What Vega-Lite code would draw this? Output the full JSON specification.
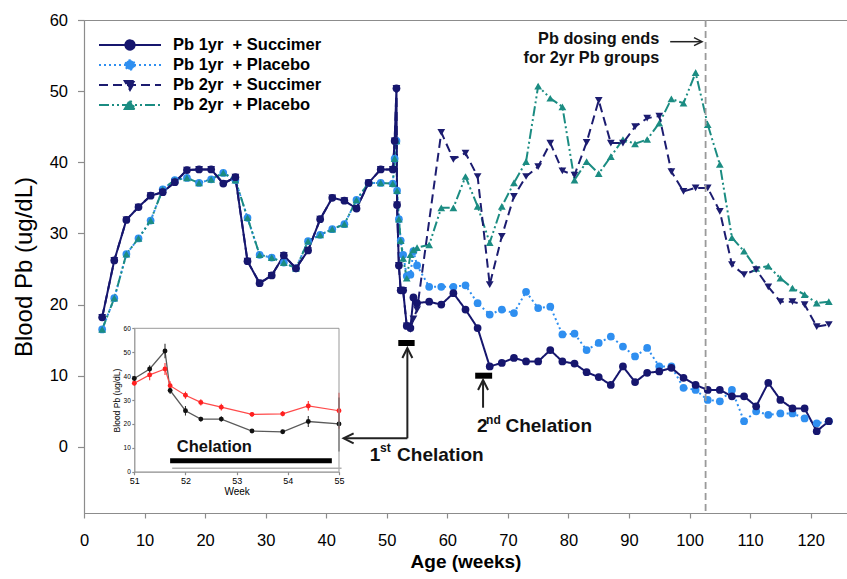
{
  "$schema": "https://vega.github.io/schema/vega-lite/v6.json",
  "width": 763,
  "height": 493,
  "autosize": {"type": "none"},
  "padding": {"left": 84, "top": 20, "right": 0, "bottom": 66},
  "background": "white",
  "datasets": {
    "main": [
      {"g":"P1","wk":3,"v":16.5},{"g":"P1","wk":5,"v":20.9},{"g":"P1","wk":7,"v":27.1},{"g":"P1","wk":9,"v":29.3},{"g":"P1","wk":11,"v":31.8},{"g":"P1","wk":13,"v":36.2},{"g":"P1","wk":15,"v":37.5},{"g":"P1","wk":17,"v":37.8},{"g":"P1","wk":19,"v":37.1},{"g":"P1","wk":21,"v":37.6},{"g":"P1","wk":23,"v":38.5},{"g":"P1","wk":25,"v":37.5},{"g":"P1","wk":27,"v":32.2},{"g":"P1","wk":29,"v":27.0},{"g":"P1","wk":31,"v":26.6},{"g":"P1","wk":33,"v":25.9},{"g":"P1","wk":35,"v":25.1},{"g":"P1","wk":37,"v":28.9},{"g":"P1","wk":39,"v":29.8},{"g":"P1","wk":41,"v":30.6},{"g":"P1","wk":43,"v":31.3},{"g":"P1","wk":45,"v":34.7},{"g":"P1","wk":47,"v":37.1},{"g":"P1","wk":49,"v":37.1},{"g":"P1","wk":51,"v":37.0},{"g":"P1","wk":51.3,"v":40.5},{"g":"P1","wk":51.6,"v":43.0},{"g":"P1","wk":51.7,"v":36.0},{"g":"P1","wk":52,"v":32.0},{"g":"P1","wk":52.3,"v":29.0},{"g":"P1","wk":52.7,"v":27.0},{"g":"P1","wk":53.3,"v":24.0},{"g":"P1","wk":53.9,"v":24.2},{"g":"P1","wk":54.4,"v":27.5},{"g":"P1","wk":55,"v":25.5},{"g":"P1","wk":57,"v":22.5},{"g":"P1","wk":59,"v":22.5},{"g":"P1","wk":61,"v":22.5},{"g":"P1","wk":63,"v":22.7},{"g":"P1","wk":65,"v":20.2},{"g":"P1","wk":67,"v":18.6},{"g":"P1","wk":69,"v":19.3},{"g":"P1","wk":71,"v":18.8},{"g":"P1","wk":73,"v":21.8},{"g":"P1","wk":75,"v":19.5},{"g":"P1","wk":77,"v":19.7},{"g":"P1","wk":79,"v":15.8},{"g":"P1","wk":81,"v":15.9},{"g":"P1","wk":83,"v":13.6},{"g":"P1","wk":85,"v":14.6},{"g":"P1","wk":87,"v":15.5},{"g":"P1","wk":89,"v":14.1},{"g":"P1","wk":91,"v":12.7},{"g":"P1","wk":93,"v":13.9},{"g":"P1","wk":95,"v":11.3},{"g":"P1","wk":97,"v":11.3},{"g":"P1","wk":99,"v":8.3},{"g":"P1","wk":101,"v":8.0},{"g":"P1","wk":103,"v":6.6},{"g":"P1","wk":105,"v":6.4},{"g":"P1","wk":107,"v":8.0},{"g":"P1","wk":109,"v":3.6},{"g":"P1","wk":111,"v":5.0},{"g":"P1","wk":113,"v":4.5},{"g":"P1","wk":115,"v":4.7},{"g":"P1","wk":117,"v":4.7},{"g":"P1","wk":119,"v":4.0},{"g":"P1","wk":121,"v":3.3},{"g":"P1","wk":123,"v":3.6},
      {"g":"P2","wk":3,"v":16.5},{"g":"P2","wk":5,"v":20.9},{"g":"P2","wk":7,"v":27.1},{"g":"P2","wk":9,"v":29.3},{"g":"P2","wk":11,"v":31.8},{"g":"P2","wk":13,"v":36.2},{"g":"P2","wk":15,"v":37.5},{"g":"P2","wk":17,"v":37.8},{"g":"P2","wk":19,"v":37.1},{"g":"P2","wk":21,"v":37.6},{"g":"P2","wk":23,"v":38.5},{"g":"P2","wk":25,"v":37.5},{"g":"P2","wk":27,"v":32.2},{"g":"P2","wk":29,"v":27.0},{"g":"P2","wk":31,"v":26.6},{"g":"P2","wk":33,"v":25.9},{"g":"P2","wk":35,"v":25.1},{"g":"P2","wk":37,"v":28.9},{"g":"P2","wk":39,"v":29.8},{"g":"P2","wk":41,"v":30.6},{"g":"P2","wk":43,"v":31.3},{"g":"P2","wk":45,"v":34.7},{"g":"P2","wk":47,"v":37.1},{"g":"P2","wk":49,"v":37.1},{"g":"P2","wk":51,"v":37.0},{"g":"P2","wk":51.3,"v":40.5},{"g":"P2","wk":51.6,"v":43.0},{"g":"P2","wk":51.7,"v":36.0},{"g":"P2","wk":52,"v":32.0},{"g":"P2","wk":52.3,"v":29.0},{"g":"P2","wk":52.7,"v":26.5},{"g":"P2","wk":53.3,"v":23.7},{"g":"P2","wk":53.9,"v":27.0},{"g":"P2","wk":54.4,"v":27.7},{"g":"P2","wk":55,"v":28.0},{"g":"P2","wk":57,"v":28.4},{"g":"P2","wk":59,"v":33.6},{"g":"P2","wk":61,"v":33.6},{"g":"P2","wk":63,"v":38.0},{"g":"P2","wk":65,"v":33.8},{"g":"P2","wk":67,"v":28.7},{"g":"P2","wk":69,"v":33.8},{"g":"P2","wk":71,"v":37.1},{"g":"P2","wk":73,"v":40.1},{"g":"P2","wk":75,"v":50.7},{"g":"P2","wk":77,"v":49.0},{"g":"P2","wk":79,"v":47.8},{"g":"P2","wk":81,"v":37.5},{"g":"P2","wk":83,"v":40.1},{"g":"P2","wk":85,"v":38.4},{"g":"P2","wk":87,"v":40.8},{"g":"P2","wk":89,"v":43.2},{"g":"P2","wk":91,"v":42.6},{"g":"P2","wk":93,"v":43.2},{"g":"P2","wk":95,"v":45.5},{"g":"P2","wk":97,"v":48.9},{"g":"P2","wk":99,"v":48.3},{"g":"P2","wk":101,"v":52.6},{"g":"P2","wk":103,"v":45.3},{"g":"P2","wk":105,"v":39.7},{"g":"P2","wk":107,"v":29.4},{"g":"P2","wk":109,"v":27.5},{"g":"P2","wk":111,"v":25.1},{"g":"P2","wk":113,"v":25.4},{"g":"P2","wk":115,"v":23.7},{"g":"P2","wk":117,"v":22.3},{"g":"P2","wk":119,"v":21.4},{"g":"P2","wk":121,"v":20.2},{"g":"P2","wk":123,"v":20.4},
      {"g":"S2","wk":3,"v":18.2},{"g":"S2","wk":5,"v":26.2},{"g":"S2","wk":7,"v":31.9},{"g":"S2","wk":9,"v":33.7},{"g":"S2","wk":11,"v":35.3},{"g":"S2","wk":13,"v":35.8},{"g":"S2","wk":15,"v":37.2},{"g":"S2","wk":17,"v":38.9},{"g":"S2","wk":19,"v":39.0},{"g":"S2","wk":21,"v":39.0},{"g":"S2","wk":23,"v":37.0},{"g":"S2","wk":25,"v":37.9},{"g":"S2","wk":27,"v":26.1},{"g":"S2","wk":29,"v":23.0},{"g":"S2","wk":31,"v":24.1},{"g":"S2","wk":33,"v":26.9},{"g":"S2","wk":35,"v":25.1},{"g":"S2","wk":37,"v":27.6},{"g":"S2","wk":39,"v":32.0},{"g":"S2","wk":41,"v":35.0},{"g":"S2","wk":43,"v":34.6},{"g":"S2","wk":45,"v":33.5},{"g":"S2","wk":47,"v":37.1},{"g":"S2","wk":49,"v":39.0},{"g":"S2","wk":51,"v":39.0},{"g":"S2","wk":51.3,"v":43.0},{"g":"S2","wk":51.6,"v":50.4},{"g":"S2","wk":51.7,"v":34.0},{"g":"S2","wk":52,"v":25.5},{"g":"S2","wk":52.3,"v":22.0},{"g":"S2","wk":52.7,"v":22.0},{"g":"S2","wk":53.3,"v":17.0},{"g":"S2","wk":53.9,"v":16.5},{"g":"S2","wk":54.4,"v":18.0},{"g":"S2","wk":55,"v":19.3},{"g":"S2","wk":59,"v":44.2},{"g":"S2","wk":61,"v":40.4},{"g":"S2","wk":63,"v":41.3},{"g":"S2","wk":65,"v":38.0},{"g":"S2","wk":67,"v":22.8},{"g":"S2","wk":69,"v":29.6},{"g":"S2","wk":71,"v":35.2},{"g":"S2","wk":73,"v":38.0},{"g":"S2","wk":75,"v":39.4},{"g":"S2","wk":77,"v":42.7},{"g":"S2","wk":79,"v":38.8},{"g":"S2","wk":81,"v":38.2},{"g":"S2","wk":83,"v":42.8},{"g":"S2","wk":85,"v":48.7},{"g":"S2","wk":87,"v":42.7},{"g":"S2","wk":89,"v":42.7},{"g":"S2","wk":91,"v":45.0},{"g":"S2","wk":93,"v":46.2},{"g":"S2","wk":95,"v":46.5},{"g":"S2","wk":97,"v":38.7},{"g":"S2","wk":99,"v":35.9},{"g":"S2","wk":101,"v":36.4},{"g":"S2","wk":103,"v":36.4},{"g":"S2","wk":105,"v":33.1},{"g":"S2","wk":107,"v":25.6},{"g":"S2","wk":109,"v":24.2},{"g":"S2","wk":111,"v":24.9},{"g":"S2","wk":113,"v":22.5},{"g":"S2","wk":115,"v":20.4},{"g":"S2","wk":117,"v":20.4},{"g":"S2","wk":119,"v":20.0},{"g":"S2","wk":121,"v":16.9},{"g":"S2","wk":123,"v":17.2},
      {"g":"S1","wk":3,"v":18.2},{"g":"S1","wk":5,"v":26.2},{"g":"S1","wk":7,"v":31.9},{"g":"S1","wk":9,"v":33.7},{"g":"S1","wk":11,"v":35.3},{"g":"S1","wk":13,"v":35.8},{"g":"S1","wk":15,"v":37.2},{"g":"S1","wk":17,"v":38.9},{"g":"S1","wk":19,"v":39.0},{"g":"S1","wk":21,"v":39.0},{"g":"S1","wk":23,"v":37.0},{"g":"S1","wk":25,"v":37.9},{"g":"S1","wk":27,"v":26.1},{"g":"S1","wk":29,"v":23.0},{"g":"S1","wk":31,"v":24.1},{"g":"S1","wk":33,"v":26.9},{"g":"S1","wk":35,"v":25.1},{"g":"S1","wk":37,"v":27.6},{"g":"S1","wk":39,"v":32.0},{"g":"S1","wk":41,"v":35.0},{"g":"S1","wk":43,"v":34.6},{"g":"S1","wk":45,"v":33.5},{"g":"S1","wk":47,"v":37.1},{"g":"S1","wk":49,"v":39.0},{"g":"S1","wk":51,"v":39.0},{"g":"S1","wk":51.3,"v":43.0},{"g":"S1","wk":51.6,"v":50.4},{"g":"S1","wk":51.7,"v":34.0},{"g":"S1","wk":52,"v":25.5},{"g":"S1","wk":52.3,"v":22.0},{"g":"S1","wk":52.7,"v":22.0},{"g":"S1","wk":53.3,"v":17.0},{"g":"S1","wk":53.9,"v":16.7},{"g":"S1","wk":54.4,"v":21.0},{"g":"S1","wk":55,"v":20.2},{"g":"S1","wk":57,"v":20.4},{"g":"S1","wk":59,"v":20.0},{"g":"S1","wk":61,"v":21.6},{"g":"S1","wk":63,"v":19.3},{"g":"S1","wk":65,"v":16.7},{"g":"S1","wk":67,"v":11.3},{"g":"S1","wk":69,"v":11.8},{"g":"S1","wk":71,"v":12.5},{"g":"S1","wk":73,"v":12.0},{"g":"S1","wk":75,"v":12.0},{"g":"S1","wk":77,"v":13.6},{"g":"S1","wk":79,"v":12.0},{"g":"S1","wk":81,"v":11.7},{"g":"S1","wk":83,"v":10.5},{"g":"S1","wk":85,"v":9.8},{"g":"S1","wk":87,"v":8.7},{"g":"S1","wk":89,"v":11.3},{"g":"S1","wk":91,"v":9.1},{"g":"S1","wk":93,"v":10.4},{"g":"S1","wk":95,"v":10.6},{"g":"S1","wk":97,"v":11.1},{"g":"S1","wk":99,"v":9.7},{"g":"S1","wk":101,"v":8.7},{"g":"S1","wk":103,"v":8.0},{"g":"S1","wk":105,"v":8.0},{"g":"S1","wk":107,"v":7.1},{"g":"S1","wk":109,"v":7.1},{"g":"S1","wk":111,"v":5.7},{"g":"S1","wk":113,"v":9.0},{"g":"S1","wk":115,"v":6.6},{"g":"S1","wk":117,"v":5.4},{"g":"S1","wk":119,"v":5.4},{"g":"S1","wk":121,"v":2.2},{"g":"S1","wk":123,"v":3.6}
    ],
    "inset": [
      {"t":"P","wk":51,"v":37,"lo":36,"hi":38},{"t":"P","wk":51.3,"v":40.5,"lo":38.3,"hi":42.7},{"t":"P","wk":51.6,"v":43,"lo":40.5,"hi":45.5},{"t":"P","wk":51.7,"v":36,"lo":34.2,"hi":37.8},{"t":"P","wk":52,"v":32,"lo":30.5,"hi":33.5},{"t":"P","wk":52.3,"v":29,"lo":27.7,"hi":30.3},{"t":"P","wk":52.7,"v":27,"lo":25.6,"hi":28.4},{"t":"P","wk":53.3,"v":24,"lo":23,"hi":25},{"t":"P","wk":53.9,"v":24.2,"lo":23.2,"hi":25.4},{"t":"P","wk":54.4,"v":27.5,"lo":25.6,"hi":29.6},{"t":"P","wk":55,"v":25.5,"lo":18,"hi":33},
      {"t":"S","wk":51,"v":39,"lo":38,"hi":40},{"t":"S","wk":51.3,"v":43,"lo":41.5,"hi":44.5},{"t":"S","wk":51.6,"v":50.5,"lo":47.5,"hi":53.5},{"t":"S","wk":51.7,"v":34,"lo":32.5,"hi":35.5},{"t":"S","wk":52,"v":25.5,"lo":23.5,"hi":27.5},{"t":"S","wk":52.3,"v":22,"lo":21,"hi":23},{"t":"S","wk":52.7,"v":22,"lo":21,"hi":23.2},{"t":"S","wk":53.3,"v":17,"lo":16.3,"hi":17.7},{"t":"S","wk":53.9,"v":16.7,"lo":16,"hi":17.5},{"t":"S","wk":54.4,"v":21,"lo":18.7,"hi":23.3},{"t":"S","wk":55,"v":20,"lo":8.5,"hi":31}
    ]
  },
  "layer": [
    {
      "layer": [
        {
          "data": {"name": "main"},
          "transform": [{"filter": "datum.wk < 0"}],
          "mark": {"type": "point", "opacity": 1, "strokeWidth": 2},
          "encoding": {
            "x": {"field": "wk", "type": "quantitative",
              "scale": {"domain": [0, 126], "nice": false, "zero": false},
              "axis": {"orient": "bottom", "values": [0,10,20,30,40,50,60,70,80,90,100,110,120], "title": "Age (weeks)", "titleFontSize": 19, "titleFontWeight": "bold", "labelFontSize": 16.5, "tickSize": 5, "labelPadding": 14, "titlePadding": 4, "labelFlush": false, "labelOverlap": false}},
            "y": {"field": "v", "type": "quantitative",
              "scale": {"domain": [-9.3, 60], "nice": false, "zero": false},
              "axis": {"orient": "left", "values": [0,10,20,30,40,50,60], "title": "Blood Pb (ug/dL)", "titleFontSize": 24, "titleFontWeight": "normal", "labelFontSize": 16.5, "tickSize": 6.5, "labelPadding": 10, "titlePadding": 13}},
            "fill": {"field": "g", "type": "nominal",
              "scale": {"domain": ["S1","P1","S2","P2"], "range": ["#16166e","#2f8ff0","#1c1c70","#1b8c82"]},
              "legend": {
                "orient": "none", "legendX": 14, "legendY": 15.4, "title": null, "padding": 0,
                "symbolSize": 3844, "symbolStrokeWidth": 2, "symbolOpacity": 1, "clipHeight": 19.2, "rowPadding": 0, "labelOffset": 11,
                "labelFontSize": 16.5, "labelFontWeight": "bold", "labelColor": "#000", "labelLimit": 400,
                "labelExpr": "datum.value=='S1'?'Pb 1yr \u00a0+ Succimer':datum.value=='P1'?'Pb 1yr \u00a0+ Placebo':datum.value=='S2'?'Pb 2yr \u00a0+ Succimer':'Pb 2yr \u00a0+ Placebo'"
              }},
            "stroke": {"field": "g", "type": "nominal",
              "scale": {"domain": ["S1","P1","S2","P2"], "range": ["#16166e","#2f8ff0","#1c1c70","#1b8c82"]}},
            "strokeDash": {"field": "g", "type": "nominal",
              "scale": {"domain": ["S1","P1","S2","P2"], "range": [[1,0],[2,3],[9,5],[10,3,2,3,2,3]]}},
            "shape": {"field": "g", "type": "nominal",
              "scale": {"domain": ["S1","P1","S2","P2"], "range": [
                "M-1,0L1,0M0.15,0A0.15,0.15,0,1,1,-0.15,0A0.15,0.15,0,1,1,0.15,0Z",
                "M-1,0L1,0M0.15,0A0.15,0.15,0,1,1,-0.15,0A0.15,0.15,0,1,1,0.15,0Z",
                "M-1,0L1,0M-0.17,-0.13L0.17,-0.13L0,0.16Z",
                "M-1,0L1,0M-0.17,0.13L0.17,0.13L0,-0.16Z"]}}
          }
        },
        {
          "data": {"name": "main"},
          "mark": {"type": "line", "strokeWidth": 2},
          "encoding": {
            "x": {"field": "wk", "type": "quantitative"},
            "y": {"field": "v", "type": "quantitative"},
            "stroke": {"field": "g", "type": "nominal"},
            "strokeDash": {"field": "g", "type": "nominal"}
          }
        },
        {
          "data": {"name": "main"},
          "transform": [{"filter": "datum.g === 'P1'"}],
          "mark": {"type": "point", "filled": true, "opacity": 1, "size": 60, "shape": "circle", "color": "#2f8ff0"},
          "encoding": {"x": {"field": "wk", "type": "quantitative"}, "y": {"field": "v", "type": "quantitative"}}
        },
        {
          "data": {"name": "main"},
          "transform": [{"filter": "datum.g === 'P2'"}],
          "mark": {"type": "point", "filled": true, "opacity": 1, "size": 60, "shape": "triangle-up", "color": "#1b8c82"},
          "encoding": {"x": {"field": "wk", "type": "quantitative"}, "y": {"field": "v", "type": "quantitative"}}
        },
        {
          "data": {"name": "main"},
          "transform": [{"filter": "datum.g === 'S2'"}],
          "mark": {"type": "point", "filled": true, "opacity": 1, "size": 60, "shape": "triangle-down", "color": "#1c1c70"},
          "encoding": {"x": {"field": "wk", "type": "quantitative"}, "y": {"field": "v", "type": "quantitative"}}
        },
        {
          "data": {"name": "main"},
          "transform": [{"filter": "datum.g === 'S1'"}],
          "mark": {"type": "point", "filled": true, "opacity": 1, "size": 60, "shape": "circle", "color": "#16166e"},
          "encoding": {"x": {"field": "wk", "type": "quantitative"}, "y": {"field": "v", "type": "quantitative"}}
        },
        {
          "data": {"values": [{"wk": 102.65}]},
          "mark": {"type": "rule", "color": "#9a9a9a", "strokeWidth": 1.8, "strokeDash": [7, 4]},
          "encoding": {"x": {"field": "wk", "type": "quantitative"}}
        },
        {
          "data": {"values": [{"wk": 51.9, "wk2": 54.6, "v": 14.6}, {"wk": 64.6, "wk2": 67.4, "v": 10.0}]},
          "mark": {"type": "rule", "color": "#000", "strokeWidth": 6, "strokeCap": "butt"},
          "encoding": {"x": {"field": "wk", "type": "quantitative"}, "x2": {"field": "wk2"}, "y": {"field": "v", "type": "quantitative"}}
        },
        {
          "data": {"values": [{"wk": 53.4, "v": 1.2, "v2": 13.8}, {"wk": 65.9, "v": 5.5, "v2": 9.3}]},
          "mark": {"type": "rule", "color": "#222", "strokeWidth": 2},
          "encoding": {"x": {"field": "wk", "type": "quantitative"}, "y": {"field": "v", "type": "quantitative"}, "y2": {"field": "v2"}}
        },
        {
          "data": {"values": [{"wk": 42.9, "wk2": 53.4, "v": 1.2}]},
          "mark": {"type": "rule", "color": "#222", "strokeWidth": 2},
          "encoding": {"x": {"field": "wk", "type": "quantitative"}, "x2": {"field": "wk2"}, "y": {"field": "v", "type": "quantitative"}}
        },
        {
          "data": {"values": [{"wk": 96.8, "wk2": 101.9, "v": 56.95}]},
          "mark": {"type": "rule", "color": "#222", "strokeWidth": 1.5},
          "encoding": {"x": {"field": "wk", "type": "quantitative"}, "x2": {"field": "wk2"}, "y": {"field": "v", "type": "quantitative"}}
        },
        {
          "data": {"values": [{"wk": 53.4, "v": 13.2}, {"wk": 65.9, "v": 8.7}]},
          "mark": {"type": "point", "shape": "M-1,1L0,-1L1,1", "size": 100, "filled": false, "color": "#222", "strokeWidth": 2, "opacity": 1},
          "encoding": {"x": {"field": "wk", "type": "quantitative"}, "y": {"field": "v", "type": "quantitative"}}
        },
        {
          "data": {"values": [{"wk": 43.7, "v": 1.2}]},
          "mark": {"type": "point", "shape": "M1,-1L-1,0L1,1", "size": 100, "filled": false, "color": "#222", "strokeWidth": 2, "opacity": 1},
          "encoding": {"x": {"field": "wk", "type": "quantitative"}, "y": {"field": "v", "type": "quantitative"}}
        },
        {
          "data": {"values": [{"wk": 101.4, "v": 56.95}]},
          "mark": {"type": "point", "shape": "M-1,-1L1,0L-1,1", "size": 64, "filled": false, "color": "#222", "strokeWidth": 1.5, "opacity": 1},
          "encoding": {"x": {"field": "wk", "type": "quantitative"}, "y": {"field": "v", "type": "quantitative"}}
        },
        {
          "data": {"values": [{"wk": 47.2, "v": -1.15, "t": "1"}, {"wk": 51.7, "v": -1.15, "t": "Chelation"}, {"wk": 64.9, "v": 2.92, "t": "2"}, {"wk": 69.6, "v": 2.92, "t": "Chelation"}]},
          "mark": {"type": "text", "align": "left", "baseline": "middle", "fontSize": 19, "fontWeight": "bold", "font": "Liberation Sans", "color": "#111"},
          "encoding": {"x": {"field": "wk", "type": "quantitative"}, "y": {"field": "v", "type": "quantitative"}, "text": {"field": "t"}}
        },
        {
          "data": {"values": [{"wk": 48.9, "v": -0.2, "t": "st"}, {"wk": 66.4, "v": 3.77, "t": "nd"}]},
          "mark": {"type": "text", "align": "left", "baseline": "middle", "fontSize": 12, "fontWeight": "bold", "font": "Liberation Sans", "color": "#111"},
          "encoding": {"x": {"field": "wk", "type": "quantitative"}, "y": {"field": "v", "type": "quantitative"}, "text": {"field": "t"}}
        },
        {
          "data": {"values": [{"wk": 95.0, "v": 57.3, "t": "Pb dosing ends"}, {"wk": 95.0, "v": 54.6, "t": "for 2yr Pb groups"}]},
          "mark": {"type": "text", "align": "right", "baseline": "middle", "fontSize": 16.3, "fontWeight": "bold", "font": "Liberation Sans", "color": "#111"},
          "encoding": {"x": {"field": "wk", "type": "quantitative"}, "y": {"field": "v", "type": "quantitative"}, "text": {"field": "t"}}
        }
      ]
    },
    {
      "layer": [
        {
          "data": {"name": "inset"},
          "transform": [{"filter": "datum.t === 'S'"}],
          "mark": {"type": "line", "color": "#5a5a5a", "strokeWidth": 1.3},
          "encoding": {
            "x": {"field": "wk", "type": "quantitative",
              "scale": {"domain": [51, 55], "range": [50.3, 255], "nice": false, "zero": false},
              "axis": {"orient": "bottom", "offset": -41.3, "values": [51,52,53,54,55], "format": "d", "title": "Week", "titleFontSize": 10, "titleFontWeight": "normal", "labelFontSize": 9, "tickSize": 3, "labelPadding": 2, "titlePadding": 1, "labelFlush": false}},
            "y": {"field": "v", "type": "quantitative",
              "scale": {"domain": [0, 60], "range": [451.7, 308.3], "nice": false, "zero": false},
              "axis": {"orient": "left", "offset": -50.3, "values": [0,10,20,30,40,50,60], "title": "Blood Pb (ug/dL)", "titleFontSize": 8.5, "titleFontWeight": "normal", "labelFontSize": 6.5, "tickSize": 2.5, "labelPadding": 1.5, "titlePadding": 2}}
          }
        },
        {
          "data": {"name": "inset"},
          "transform": [{"filter": "datum.t === 'P'"}],
          "mark": {"type": "line", "color": "#ff4a4a", "strokeWidth": 1.2},
          "encoding": {"x": {"field": "wk", "type": "quantitative"}, "y": {"field": "v", "type": "quantitative"}}
        },
        {
          "data": {"name": "inset"},
          "transform": [{"filter": "datum.t === 'P'"}],
          "mark": {"type": "rule", "color": "#ff3030", "strokeWidth": 1.1},
          "encoding": {"x": {"field": "wk", "type": "quantitative"}, "y": {"field": "lo", "type": "quantitative"}, "y2": {"field": "hi"}}
        },
        {
          "data": {"name": "inset"},
          "transform": [{"filter": "datum.t === 'S'"}],
          "mark": {"type": "rule", "color": "#333", "strokeWidth": 1.1},
          "encoding": {"x": {"field": "wk", "type": "quantitative"}, "y": {"field": "lo", "type": "quantitative"}, "y2": {"field": "hi"}}
        },
        {
          "data": {"name": "inset"},
          "transform": [{"filter": "datum.t === 'P'"}],
          "mark": {"type": "point", "filled": true, "color": "#ff2020", "size": 24, "opacity": 1},
          "encoding": {"x": {"field": "wk", "type": "quantitative"}, "y": {"field": "v", "type": "quantitative"}}
        },
        {
          "data": {"name": "inset"},
          "transform": [{"filter": "datum.t === 'S'"}],
          "mark": {"type": "point", "filled": true, "color": "#111", "size": 24, "opacity": 1},
          "encoding": {"x": {"field": "wk", "type": "quantitative"}, "y": {"field": "v", "type": "quantitative"}}
        },
        {
          "data": {"values": [{"wk": 51, "wk2": 55, "v": 60}]},
          "mark": {"type": "rule", "color": "#999", "strokeWidth": 1},
          "encoding": {"x": {"field": "wk", "type": "quantitative"}, "x2": {"field": "wk2"}, "y": {"field": "v", "type": "quantitative"}}
        },
        {
          "data": {"values": [{"wk": 55, "v": 0, "v2": 60}]},
          "mark": {"type": "rule", "color": "#999", "strokeWidth": 1},
          "encoding": {"x": {"field": "wk", "type": "quantitative"}, "y": {"field": "v", "type": "quantitative"}, "y2": {"field": "v2"}}
        },
        {
          "data": {"values": [{"wk": 51.74, "wk2": 55.05, "v": 1.4}]},
          "mark": {"type": "rule", "color": "#b0b0b0", "strokeWidth": 1.5},
          "encoding": {"x": {"field": "wk", "type": "quantitative"}, "x2": {"field": "wk2"}, "y": {"field": "v", "type": "quantitative"}}
        },
        {
          "data": {"values": [{"wk": 51.7, "wk2": 54.86, "v": 4.6}]},
          "mark": {"type": "rule", "color": "#000", "strokeWidth": 5, "strokeCap": "butt"},
          "encoding": {"x": {"field": "wk", "type": "quantitative"}, "x2": {"field": "wk2"}, "y": {"field": "v", "type": "quantitative"}}
        },
        {
          "data": {"values": [{"wk": 51.83, "v": 10.5, "t": "Chelation"}]},
          "mark": {"type": "text", "align": "left", "baseline": "middle", "fontSize": 16.5, "fontWeight": "bold", "font": "Liberation Sans", "color": "#111"},
          "encoding": {"x": {"field": "wk", "type": "quantitative"}, "y": {"field": "v", "type": "quantitative"}, "text": {"field": "t"}}
        }
      ]
    }
  ],
  "resolve": {"scale": {"x": "independent", "y": "independent"}},
  "config": {
    "font": "Liberation Sans",
    "view": {"stroke": "#8c8c8c", "strokeWidth": 1},
    "axis": {"grid": false, "domainColor": "#8c8c8c", "tickColor": "#8c8c8c", "labelColor": "#000", "titleColor": "#000", "labelFont": "Liberation Sans", "titleFont": "Liberation Sans", "domainWidth": 1.2, "tickWidth": 1.2}
  }
}
